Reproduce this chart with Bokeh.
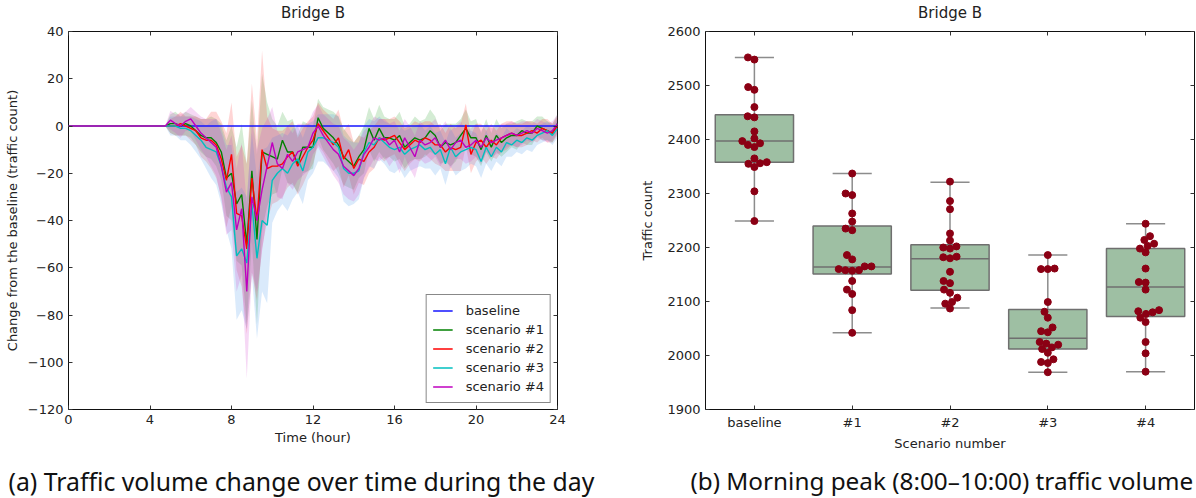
import numpy as np
from bokeh.plotting import figure
from bokeh.layouts import row, column
from bokeh.models import Range1d, FixedTicker, LinearAxis, Legend, LegendItem
from bokeh.core.properties import value
from bokeh.embed import file_html
from bokeh.resources import INLINE

# ---------------- data: panel (a) ----------------
hours = [0.0] + [4.75 + 0.25 * i for i in range(78)]   # 15-min grid, 4.75 .. 24.0

baseline_x = [0, 24]
baseline_y = [0, 0]

scenario1 = [0, 0,
             1, 1, 0, 1,
             0, -2, -4, -5,
             -5, -7, -11, -22,
             -20, -33, -29, -50,
             -19, -48, -11, -12,
             -13, -14, -6, -11,
             -11, -16, -9, -9,
             -9, 3.5, -1, -3,
             -5, -8, -13, -15,
             -17, -13, -10, -1,
             -6, -1, -5, -5,
             -6, -4, -9, -7,
             -5, -6, -5, -2,
             -4, -9, -7, -8,
             -7, -4, -1, -5,
             -5, -10, -4, -9,
             -4, -7, -5, -4,
             -4, -2, -3, -3,
             0, -1, -2, -3,
             1]
scenario2 = [0, 0,
             0, 0, 1, 0,
             -1, -2, -5, -6,
             -6, -8, -14, -23,
             -12, -37, -38, -52,
             -22, -40, -10, -18,
             -17, -17, -16, -13,
             -11, -17, -13, -9,
             -6, 1, -2, -5,
             -8, -5, -14, -10,
             -18, -14, -15, -11,
             -9, -5, -6, -5,
             -4, -7, -10, -8,
             -6, -7, -5, -6,
             -8, -8, -11, -9,
             -10, -9, 0.5, -12,
             -7, -6, -9, -6,
             -8, -5, -4, -3,
             -4, -4, -3, -2,
             -3, -1, -2, -3,
             0]
scenario3 = [0, 0,
             0, 0, -1, -1,
             -2, -4, -6, -9,
             -10, -11, -17, -26,
             -30, -55, -52, -58,
             -33, -56, -40, -42,
             -23, -20, -18, -20,
             -16, -14, -19, -11,
             -9, -5, -5, -6,
             -7, -9, -18, -20,
             -20, -19, -11, -7,
             -8, -5, -7, -9,
             -10, -9, -12, -10,
             -9, -8, -10, -9,
             -12, -10, -16, -9,
             -13, -11, -10, -9,
             -10, -15, -9, -13,
             -9, -11, -7, -8,
             -6, -7, -5, -6,
             -4, -3, -2, -4,
             -1]
scenario4 = [0, 0,
             2.5, 1, 0, 2,
             3, 0, -3, -5,
             -7, -9, -17, -28,
             -24, -44, -35, -70,
             -30, -40, -27, -17,
             -7, -16, -18, -12,
             -15, -11, -10, -9,
             -3, 0, -4, -7,
             -10, -12, -17, -19,
             -21, -18, -12, -9,
             -5, -6, -5, -8,
             -6, -11, -5, -9,
             -13, -6, -8, -7,
             -5, -9, -6, -10,
             -7, -6, -9, -8,
             -6, -9, -5, -7,
             -6, -5, -4, -3,
             -4, -3, -2, -3,
             -1, -2, -3, -2,
             1]

spread1 = [0, 0,
           4, 5, 4, 5,
           5, 6, 7, 8,
           9, 10, 12, 16,
           20, 24, 30, 34,
           30, 36, 33, 22,
           16, 14, 12, 13,
           14, 12, 11, 10,
           9, 8, 9, 10,
           11, 12, 12, 11,
           10, 9, 10, 9,
           9, 10, 9, 8,
           9, 10, 9, 8,
           9, 8, 8, 9,
           8, 7, 8, 9,
           8, 7, 8, 7,
           8, 7, 7, 6,
           7, 6, 6, 5,
           6, 5, 5, 5,
           4, 5, 4, 4,
           4]
spread2 = [0, 0,
           3, 4, 5, 4,
           5, 6, 8, 9,
           12, 14, 16, 20,
           22, 24, 30, 36,
           40, 34, 42, 22,
           16, 15, 14, 13,
           13, 12, 12, 11,
           10, 9, 9, 10,
           11, 12, 12, 11,
           11, 10, 10, 9,
           9, 8, 9, 8,
           8, 9, 9, 8,
           8, 8, 7, 8,
           8, 9, 8, 10,
           9, 10, 9, 8,
           8, 7, 7, 7,
           6, 6, 6, 5,
           5, 5, 5, 4,
           4, 4, 5, 4,
           4]
spread3 = [0, 0,
           4, 4, 5, 5,
           6, 7, 8, 9,
           12, 14, 16, 18,
           22, 27, 26, 28,
           30, 34, 30, 33,
           18, 16, 15, 16,
           15, 14, 14, 12,
           11, 10, 10, 11,
           12, 13, 14, 14,
           13, 12, 11, 10,
           10, 9, 9, 10,
           10, 9, 10, 9,
           9, 9, 8, 9,
           9, 8, 9, 8,
           8, 8, 8, 7,
           7, 7, 7, 6,
           6, 6, 6, 5,
           5, 5, 5, 5,
           4, 4, 4, 4,
           4]
spread4 = [0, 0,
           4, 4, 5, 4,
           5, 6, 7, 8,
           10, 12, 14, 18,
           20, 26, 28, 37,
           32, 30, 26, 20,
           15, 14, 13, 12,
           12, 12, 11, 10,
           9, 9, 9, 10,
           11, 12, 12, 12,
           11, 11, 10, 9,
           9, 9, 8, 9,
           8, 9, 8, 9,
           9, 8, 8, 8,
           8, 8, 8, 8,
           7, 8, 7, 7,
           7, 7, 6, 6,
           6, 6, 5, 5,
           5, 5, 4, 4,
           4, 4, 4, 4,
           4]

x_ticks_a = [0, 4, 8, 12, 16, 20, 24]
y_ticks_a = [-120, -100, -80, -60, -40, -20, 0, 20, 40]

# ---------------- data: panel (b) ----------------
categories = ["baseline", "#1", "#2", "#3", "#4"]
box_q1 = [2358, 2151, 2121, 2012, 2072]
box_median = [2397, 2164, 2179, 2032, 2127]
box_q3 = [2446, 2240, 2205, 2085, 2198]
whisker_low = [2249, 2042, 2088, 1969, 1970]
whisker_high = [2552, 2337, 2321, 2186, 2244]
points = [
    [2552, 2548, 2497, 2492, 2460, 2443, 2441, 2415, 2402, 2397, 2393, 2390, 2386, 2365, 2358, 2356, 2355, 2349, 2304, 2249],
    [2337, 2300, 2297, 2263, 2248, 2235, 2232, 2186, 2178, 2165, 2165, 2160, 2158, 2157, 2158, 2138, 2122, 2114, 2084, 2042],
    [2322, 2286, 2271, 2226, 2213, 2202, 2200, 2198, 2182, 2180, 2183, 2155, 2138, 2134, 2122, 2116, 2107, 2099, 2096, 2087],
    [2186, 2160, 2160, 2161, 2099, 2081, 2070, 2052, 2045, 2043, 2025, 2022, 2020, 2015, 2012, 2005, 1993, 1988, 1986, 1969],
    [2244, 2221, 2214, 2207, 2203, 2198, 2191, 2161, 2135, 2136, 2122, 2084, 2082, 2080, 2077, 2070, 2062, 2025, 2004, 1970],
]
y_ticks_b = [1900, 2000, 2100, 2200, 2300, 2400, 2500, 2600]

titles = ["Bridge B", "Bridge B"]
captions = ["(a) Traffic volume change over time during the day",
            "(b) Morning peak (8:00\u201310:00) traffic volume"]

FONT = "DejaVu Sans"
TXT = "#222222"
W = 598
TOP_H = 24
CAP_H = 40
PLOT_H = 498 - TOP_H - CAP_H


def text_strip(height, x, y, text, font, size, align, color):
    s = figure(width=W, height=height, output_backend="svg", toolbar_location=None,
               x_range=Range1d(0, W), y_range=Range1d(0, height),
               min_border=0, min_border_left=0, min_border_right=0,
               min_border_top=0, min_border_bottom=0)
    s.axis.visible = False
    s.grid.visible = False
    s.outline_line_color = None
    s.background_fill_color = "white"
    s.border_fill_color = "white"
    s.text(x=[x], y=[y], text=[text], text_font=value(font), text_font_size=size,
           text_align=align, text_baseline="middle", text_color=color)
    return s


def style_axes(p, xt, yt, xlabels, ylabels, xlab, ylab, ylab_standoff):
    bx = p.below[0]
    ly = p.left[0]
    bx.ticker = FixedTicker(ticks=xt)
    ly.ticker = FixedTicker(ticks=yt)
    bx.major_label_overrides = xlabels
    ly.major_label_overrides = ylabels
    bx.axis_label = xlab
    ly.axis_label = ylab
    for ax in (bx, ly):
        ax.axis_line_color = None
        ax.major_tick_in = 4
        ax.major_tick_out = 0
        ax.minor_tick_line_color = None
        ax.major_tick_line_color = "#333333"
        ax.major_label_text_font = FONT
        ax.major_label_text_font_size = "13px"
        ax.major_label_text_color = TXT
        ax.axis_label_text_font = FONT
        ax.axis_label_text_font_size = "13px"
        ax.axis_label_text_font_style = "normal"
        ax.axis_label_text_color = TXT
    bx.major_label_standoff = 5
    bx.axis_label_standoff = 3
    ly.major_label_standoff = 5
    ly.axis_label_standoff = ylab_standoff
    empty_x = {t: "" for t in xt}
    empty_y = {t: "" for t in yt}
    top = LinearAxis(ticker=FixedTicker(ticks=xt), major_label_overrides=empty_x,
                     major_label_text_font_size="0px", major_label_standoff=0,
                     major_tick_in=4, major_tick_out=0, minor_tick_line_color=None,
                     axis_line_color=None, major_tick_line_color="#333333")
    right = LinearAxis(ticker=FixedTicker(ticks=yt), major_label_overrides=empty_y,
                       major_label_text_font_size="0px", major_label_standoff=0,
                       major_tick_in=4, major_tick_out=0, minor_tick_line_color=None,
                       axis_line_color=None, major_tick_line_color="#333333")
    p.add_layout(top, "above")
    p.add_layout(right, "right")
    p.grid.visible = False
    p.outline_line_color = "#111111"
    p.outline_line_width = 1
    p.background_fill_color = "white"
    p.border_fill_color = "white"


# ---------------- panel (a) ----------------
p1 = figure(width=W, height=PLOT_H, output_backend="svg", toolbar_location=None,
            x_range=Range1d(0, 24), y_range=Range1d(-120, 40),
            min_border_left=68, min_border_right=41, min_border_top=31 - TOP_H,
            min_border_bottom=409 - TOP_H - (PLOT_H - (498 - 409 - CAP_H)) + (498 - 409 - CAP_H))
p1.min_border_bottom = TOP_H + PLOT_H - 409
style_axes(p1, x_ticks_a, y_ticks_a,
           {t: str(t) for t in x_ticks_a},
           {t: str(t).replace("-", "\u2212") for t in y_ticks_a},
           "Time (hour)", "Change from the baseline (traffic count)", 5)

h = np.array(hours)
series = [scenario1, scenario2, scenario3, scenario4]
spreads = [spread1, spread2, spread3, spread4]
band_colors = ["#1a9a1a", "#ff2020", "#3a8ee8", "#d030c8"]
line_colors = ["#008000", "#ff0000", "#00bfbf", "#bf00bf"]
names = ["scenario #1", "scenario #2", "scenario #3", "scenario #4"]

for s, sd, bc in zip(series, spreads, band_colors):
    m = np.array(s, dtype=float)
    d = np.array(sd, dtype=float)
    p1.varea(x=h, y1=m - d, y2=m + d, fill_color=bc, fill_alpha=0.19)

items = []
rb = p1.line(baseline_x, baseline_y, line_color="#1414ff", line_width=1.4)
items.append(LegendItem(label="baseline", renderers=[rb]))
for s, lc, nm in zip(series, line_colors, names):
    r = p1.line(h, s, line_color=lc, line_width=1.4)
    items.append(LegendItem(label=nm, renderers=[r]))

legend = Legend(items=items, location="bottom_right", margin=6, padding=6, spacing=0,
                glyph_width=20, glyph_height=19, label_height=19, label_standoff=13,
                label_text_font=FONT, label_text_font_size="13px", label_text_color=TXT,
                border_line_color="#111111", border_line_width=1.2,
                background_fill_color="white", background_fill_alpha=1.0)
p1.add_layout(legend)

# ---------------- panel (b) ----------------
p2 = figure(width=W, height=PLOT_H, output_backend="svg", toolbar_location=None,
            x_range=Range1d(-0.5, 4.5), y_range=Range1d(1900, 2600),
            min_border_left=107, min_border_right=2, min_border_top=31 - TOP_H,
            min_border_bottom=TOP_H + PLOT_H - 409)
style_axes(p2, list(range(len(categories))), y_ticks_b,
           {i: c for i, c in enumerate(categories)},
           {t: str(t) for t in y_ticks_b},
           "Scenario number", "Traffic count", 9)

xs = np.arange(len(categories))
BOX_EDGE = "#6f6f6f"
p2.segment(x0=xs, y0=box_q3, x1=xs, y1=whisker_high, line_color="#8c8c8c", line_width=1.5)
p2.segment(x0=xs, y0=box_q1, x1=xs, y1=whisker_low, line_color="#8c8c8c", line_width=1.5)
p2.segment(x0=xs - 0.2, y0=whisker_high, x1=xs + 0.2, y1=whisker_high, line_color="#8c8c8c", line_width=1.5)
p2.segment(x0=xs - 0.2, y0=whisker_low, x1=xs + 0.2, y1=whisker_low, line_color="#8c8c8c", line_width=1.5)
p2.quad(left=xs - 0.4, right=xs + 0.4, bottom=box_q1, top=box_q3,
        fill_color="#9ebfa3", line_color=BOX_EDGE, line_width=1.5)
p2.segment(x0=xs - 0.4, y0=box_median, x1=xs + 0.4, y1=box_median, line_color=BOX_EDGE, line_width=1.5)

# beeswarm layout (pixel space)
PX_X = 489 / 5.0      # px per category unit
PX_Y = 378 / 700.0    # px per count
DIAM = 6.8


def swarm_offsets(vals):
    order = np.argsort(vals)
    placed = []
    offs = np.zeros(len(vals))
    for idx in order:
        y = vals[idx] * PX_Y
        cands = [0.0]
        for (px, py) in placed:
            dy = abs(py - y)
            if dy < DIAM:
                dx = np.sqrt(DIAM ** 2 - dy ** 2)
                cands += [px + dx, px - dx]
        cands.sort(key=lambda c: (abs(c), c))
        for c in cands:
            if all((c - px) ** 2 + (y - py) ** 2 >= DIAM ** 2 - 1e-6 for (px, py) in placed):
                break
        placed.append((c, y))
        offs[idx] = c / PX_X
    return offs


for i, vals in enumerate(points):
    v = np.array(vals, dtype=float)
    off = swarm_offsets(v)
    p2.scatter(x=i + off, y=v, size=7, fill_color="#8b0014", line_color="#8b0014")

# ---------------- title and caption strips ----------------
t1 = text_strip(TOP_H, 312.5, TOP_H - 12, titles[0], FONT, "15px", "center", TXT)
t2 = text_strip(TOP_H, 351.5, TOP_H - 12, titles[1], FONT, "15px", "center", TXT)
c1 = text_strip(CAP_H, 8, CAP_H - 22, captions[0], "Noto Sans", "24.8px", "left", "#111111")
c2 = text_strip(CAP_H, 92, CAP_H - 22, captions[1], "Noto Sans", "24.3px", "left", "#111111")

layout = column(row(t1, t2, spacing=0), row(p1, p2, spacing=0), row(c1, c2, spacing=0), spacing=0)
open("out.html", "w").write(file_html(layout, INLINE))
